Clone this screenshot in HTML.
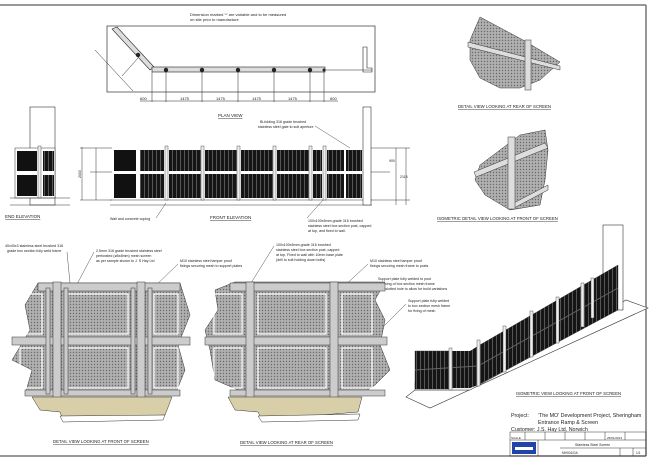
<!DOCTYPE html>
<html><head><meta charset="utf-8"><style>
html,body{margin:0;padding:0;background:#fff;}
svg{display:block;font-family:"Liberation Sans",sans-serif;}
</style></head><body>
<svg width="650" height="469" viewBox="0 0 650 469" xmlns="http://www.w3.org/2000/svg">
<defs>
<pattern id="mesh" width="3" height="3" patternUnits="userSpaceOnUse"><rect width="3" height="3" fill="#b0b0b0"/><circle cx="1.5" cy="1.5" r="0.7" fill="#6a6a6a"/></pattern>
<pattern id="dark" width="4" height="6" patternUnits="userSpaceOnUse"><rect width="4" height="6" fill="#151515"/><rect x="0" y="0" width="1" height="6" fill="#555"/></pattern>
</defs>
<rect width="650" height="469" fill="#fff"/>
<line x1="0" y1="5" x2="646" y2="5" stroke="#777" stroke-width="1.5"/>
<line x1="646" y1="5" x2="646" y2="456" stroke="#777" stroke-width="1.5"/>
<line x1="0" y1="456" x2="646" y2="456" stroke="#777" stroke-width="1.5"/>

<!-- plan view -->
<text x="190" y="16" font-size="4" fill="#222">Dimension marked '*' are variable and to be measured</text>
<text x="190" y="21" font-size="4" fill="#222">on site prior to manufacture</text>
<rect x="107" y="26" width="268" height="66" fill="none" stroke="#333" stroke-width="0.7"/>
<polygon points="112,29 117,27 154,67 150,70" fill="#ddd" stroke="#222" stroke-width="0.6"/>
<rect x="152" y="67" width="173" height="5" fill="#ddd" stroke="#222" stroke-width="0.6"/>
<line x1="325" y1="70" x2="372" y2="70" stroke="#222" stroke-width="0.6"/>
<path d="M363,47 h4 v21 h5 v4 h-9 z" fill="none" stroke="#222" stroke-width="0.6"/>
<g fill="#222"><circle cx="138" cy="55" r="2.2"/><circle cx="166" cy="70" r="2.2"/><circle cx="202" cy="70" r="2.2"/><circle cx="238" cy="70" r="2.2"/><circle cx="274" cy="70" r="2.2"/><circle cx="310" cy="70" r="2.2"/><circle cx="324" cy="70" r="1.5"/></g>
<line x1="95" y1="50" x2="133" y2="91" stroke="#222" stroke-width="0.5"/>
<line x1="122" y1="76" x2="138" y2="58" stroke="#222" stroke-width="0.5"/>
<line x1="140" y1="101" x2="338" y2="101" stroke="#222" stroke-width="0.5"/>
<g stroke="#222" stroke-width="0.5"><line x1="152" y1="72" x2="152" y2="102"/><line x1="166" y1="72" x2="166" y2="102"/><line x1="202" y1="72" x2="202" y2="102"/><line x1="238" y1="72" x2="238" y2="102"/><line x1="274" y1="72" x2="274" y2="102"/><line x1="310" y1="72" x2="310" y2="102"/><line x1="324" y1="72" x2="324" y2="102"/></g>
<g font-size="4" fill="#222"><text x="140" y="100">600</text><text x="180" y="100">1475</text><text x="216" y="100">1475</text><text x="252" y="100">1475</text><text x="288" y="100">1475</text><text x="330" y="100">600</text></g>
<text x="218" y="117" font-size="4.5" fill="#222" text-decoration="underline">PLAN VIEW</text>

<!-- end elevation -->
<rect x="30" y="107" width="25" height="98" fill="none" stroke="#333" stroke-width="0.6"/>
<rect x="15" y="148" width="40" height="50" fill="#fff" stroke="#333" stroke-width="0.5"/>
<rect x="17" y="151" width="20" height="20" fill="#111"/><rect x="17" y="175" width="20" height="21" fill="#111"/>
<rect x="43" y="151" width="11" height="20" fill="url(#dark)"/><rect x="43" y="175" width="11" height="21" fill="url(#dark)"/>
<rect x="38" y="146" width="3" height="52" fill="#eee" stroke="#333" stroke-width="0.4"/>
<line x1="10" y1="198" x2="70" y2="198" stroke="#333" stroke-width="0.5"/>
<line x1="10" y1="205" x2="70" y2="205" stroke="#333" stroke-width="0.5"/>
<text x="5" y="218" font-size="4.5" fill="#222" text-decoration="underline">END ELEVATION</text>

<!-- front elevation -->
<g stroke="#333" stroke-width="0.5" fill="none">
<line x1="82" y1="147" x2="82" y2="200"/><line x1="96" y1="148" x2="96" y2="200"/><line x1="80" y1="148" x2="112" y2="148"/><line x1="80" y1="200" x2="112" y2="200"/><line x1="90" y1="172" x2="112" y2="172"/>
<line x1="396" y1="148" x2="396" y2="205"/><line x1="406" y1="148" x2="406" y2="205"/><line x1="370" y1="148" x2="410" y2="148"/><line x1="370" y1="200" x2="410" y2="200"/><line x1="370" y1="172" x2="390" y2="172"/>
<line x1="110" y1="205" x2="372" y2="205"/><line x1="110" y1="200" x2="372" y2="200"/>
</g>
<g font-size="3.5" fill="#222"><text x="77" y="178" transform="rotate(-90 79 176)">2000</text><text x="400" y="178">2115</text><text x="389" y="162">900</text></g>
<rect x="363" y="107" width="8" height="98" fill="#fff" stroke="#333" stroke-width="0.6"/>
<g>
<rect x="114" y="150" width="22" height="21" fill="#111"/><rect x="114" y="174" width="22" height="24" fill="#111"/>
<rect x="140" y="150" width="24" height="21" fill="url(#dark)"/><rect x="140" y="174" width="24" height="24" fill="url(#dark)"/>
<rect x="169" y="150" width="32" height="21" fill="url(#dark)"/><rect x="169" y="174" width="32" height="24" fill="url(#dark)"/>
<rect x="205" y="150" width="32" height="21" fill="url(#dark)"/><rect x="205" y="174" width="32" height="24" fill="url(#dark)"/>
<rect x="241" y="150" width="32" height="21" fill="url(#dark)"/><rect x="241" y="174" width="32" height="24" fill="url(#dark)"/>
<rect x="277" y="150" width="32" height="21" fill="url(#dark)"/><rect x="277" y="174" width="32" height="24" fill="url(#dark)"/>
<rect x="313" y="150" width="9" height="21" fill="url(#dark)"/><rect x="313" y="174" width="9" height="24" fill="url(#dark)"/>
<rect x="327" y="150" width="17" height="21" fill="url(#dark)"/><rect x="327" y="174" width="17" height="24" fill="url(#dark)"/>
<rect x="346" y="150" width="16" height="21" fill="url(#dark)"/><rect x="346" y="174" width="16" height="24" fill="url(#dark)"/>
</g>
<g fill="#eee" stroke="#333" stroke-width="0.4"><rect x="165" y="146" width="3" height="54"/><rect x="201" y="146" width="3" height="54"/><rect x="237" y="146" width="3" height="54"/><rect x="273" y="146" width="3" height="54"/><rect x="309" y="146" width="3" height="54"/><rect x="323" y="146" width="3" height="54"/></g>
<text x="260" y="123" font-size="3.6" fill="#222">Bi-folding 316 grade brushed</text>
<text x="258" y="128" font-size="3.6" fill="#222">stainless steel gate to suit aperture</text>
<line x1="315" y1="126" x2="350" y2="148" stroke="#222" stroke-width="0.4"/>
<text x="110" y="220" font-size="3.6" fill="#222">Wall and concrete coping</text>
<line x1="156" y1="218" x2="166" y2="203" stroke="#222" stroke-width="0.4"/>
<text x="210" y="219" font-size="4.5" fill="#222" text-decoration="underline">FRONT ELEVATION</text>
<line x1="307" y1="218" x2="323" y2="200" stroke="#222" stroke-width="0.4"/>
<text x="308" y="222" font-size="3.6" fill="#222">100x100x6mm grade 316 brushed</text>
<text x="308" y="227" font-size="3.6" fill="#222">stainless steel box section post, capped</text>
<text x="308" y="232" font-size="3.6" fill="#222">at top, and fixed to wall.</text>

<!-- iso detail rear -->
<polygon points="480,17 523,40 560,62 540,80 520,88 500,88 480,78 470,60 470,40" fill="url(#mesh)" stroke="#333" stroke-width="0.5"/>
<polygon points="468,42 560,66 560,70 468,47" fill="#ddd" stroke="#333" stroke-width="0.5"/>
<rect x="525" y="40" width="6" height="50" fill="#ddd" stroke="#333" stroke-width="0.5"/>
<text x="458" y="108" font-size="4.3" fill="#222" text-decoration="underline">DETAIL VIEW LOOKING AT REAR OF SCREEN</text>
<!-- iso detail front -->
<polygon points="480,165 520,135 545,130 548,150 545,180 540,205 510,210 485,195 475,180" fill="url(#mesh)" stroke="#333" stroke-width="0.5"/>
<polygon points="474,172 545,143 548,148 476,177" fill="#ddd" stroke="#333" stroke-width="0.5"/>
<polygon points="510,205 548,185 548,190 512,209" fill="#ddd" stroke="#333" stroke-width="0.5"/>
<rect x="508" y="137" width="7" height="72" fill="#ddd" stroke="#333" stroke-width="0.5"/>
<text x="437" y="220" font-size="4.3" fill="#222" text-decoration="underline">ISOMETRIC DETAIL VIEW LOOKING AT FRONT OF SCREEN</text>

<!-- detail front -->
<text x="5" y="247" font-size="3.6" fill="#222">40x40x3 stainless steel brushed 316</text>
<text x="7" y="252" font-size="3.6" fill="#222">grade box section fully weld frame</text>
<line x1="67" y1="252" x2="70" y2="283" stroke="#222" stroke-width="0.4"/>
<text x="96" y="252" font-size="3.6" fill="#222">2.5mm 316 grade brushed stainless steel</text>
<text x="96" y="257" font-size="3.6" fill="#222">perforated (ø5x8mm) mesh screen</text>
<text x="96" y="262" font-size="3.6" fill="#222">as per sample shown to J. S Hay Ltd</text>
<line x1="94" y1="252" x2="75" y2="288" stroke="#222" stroke-width="0.4"/>
<text x="180" y="262" font-size="3.6" fill="#222">M10 stainless steel tamper proof</text>
<text x="180" y="267" font-size="3.6" fill="#222">fixings securing mesh to support plates</text>
<line x1="178" y1="264" x2="150" y2="291" stroke="#222" stroke-width="0.4"/>
<polygon points="38,283 180,283 190,315 178,345 185,370 175,395 25,395 32,370 12,360 30,330 25,305" fill="url(#mesh)" stroke="#333" stroke-width="0.5"/>
<g fill="none" stroke="#fff" stroke-width="1.2">
<rect x="66" y="294" width="62" height="40"/><rect x="66" y="348" width="62" height="40"/>
<rect x="20" y="294" width="22" height="40"/><rect x="20" y="348" width="22" height="40"/>
<rect x="154" y="294" width="24" height="40"/><rect x="154" y="348" width="24" height="40"/>
</g>
<g fill="#ccc" stroke="#333" stroke-width="0.5">
<rect x="38" y="283" width="142" height="8"/><rect x="12" y="337" width="178" height="8"/><rect x="25" y="390" width="155" height="6"/>
<rect x="53" y="282" width="8" height="116"/><rect x="137" y="282" width="8" height="116"/>
<rect x="46" y="288" width="4" height="106"/><rect x="64" y="288" width="4" height="106"/><rect x="131" y="288" width="4" height="106"/><rect x="148" y="288" width="4" height="106"/>
</g>
<polygon points="32,397 172,397 165,415 63,420 60,412 40,410" fill="#d8cfa8" stroke="#333" stroke-width="0.5"/>
<polygon points="60,416 165,415 163,420 63,422" fill="#fff" stroke="#333" stroke-width="0.5"/>
<text x="53" y="443" font-size="4.3" fill="#222" text-decoration="underline">DETAIL VIEW LOOKING AT FRONT OF SCREEN</text>

<!-- detail rear -->
<text x="276" y="246" font-size="3.6" fill="#222">100x100x6mm grade 316 brushed</text>
<text x="276" y="251" font-size="3.6" fill="#222">stainless steel box section post, capped</text>
<text x="276" y="256" font-size="3.6" fill="#222">at top. Fixed to wall with 10mm base plate</text>
<text x="276" y="261" font-size="3.6" fill="#222">(drill to suit holding down bolts)</text>
<line x1="274" y1="246" x2="251" y2="283" stroke="#222" stroke-width="0.4"/>
<text x="370" y="262" font-size="3.6" fill="#222">M10 stainless steel tamper proof</text>
<text x="370" y="267" font-size="3.6" fill="#222">fixings securing mesh frame to posts</text>
<line x1="368" y1="264" x2="340" y2="290" stroke="#222" stroke-width="0.4"/>
<text x="378" y="280" font-size="3.6" fill="#222">Support plate fully welded to post</text>
<text x="378" y="285" font-size="3.6" fill="#222">for fixing of box section mesh frame</text>
<text x="378" y="290" font-size="3.6" fill="#222">with slotted hole to allow for build variations</text>
<line x1="376" y1="282" x2="338" y2="325" stroke="#222" stroke-width="0.4"/>
<text x="408" y="302" font-size="3.6" fill="#222">Support plate fully welded</text>
<text x="408" y="307" font-size="3.6" fill="#222">to box section mesh frame</text>
<text x="408" y="312" font-size="3.6" fill="#222">for fixing of mesh</text>
<line x1="406" y1="304" x2="375" y2="335" stroke="#222" stroke-width="0.4"/>
<polygon points="215,290 235,282 385,282 375,300 385,320 380,345 390,370 375,385 360,395 250,395 215,380 210,350 205,330 218,310" fill="url(#mesh)" stroke="#333" stroke-width="0.5"/>
<g fill="none" stroke="#fff" stroke-width="1.2">
<rect x="258" y="294" width="68" height="40"/><rect x="258" y="348" width="68" height="40"/>
<rect x="214" y="294" width="28" height="40"/><rect x="214" y="348" width="28" height="40"/>
<rect x="342" y="294" width="30" height="40"/><rect x="342" y="348" width="30" height="40"/>
</g>
<g fill="#ccc" stroke="#333" stroke-width="0.5">
<rect x="230" y="283" width="155" height="8"/><rect x="205" y="337" width="182" height="8"/><rect x="230" y="390" width="155" height="6"/>
<rect x="246" y="282" width="8" height="116"/><rect x="330" y="282" width="8" height="116"/>
</g>
<polygon points="228,397 362,397 358,412 262,420 258,412 235,410" fill="#d8cfa8" stroke="#333" stroke-width="0.5"/>
<polygon points="258,416 360,414 358,420 262,422" fill="#fff" stroke="#333" stroke-width="0.5"/>
<text x="240" y="444" font-size="4.3" fill="#222" text-decoration="underline">DETAIL VIEW LOOKING AT REAR OF SCREEN</text>

<!-- iso view -->
<polygon points="406,397 430,408 648,308 626,300 470,390 415,390" fill="#fff" stroke="#333" stroke-width="0.6"/>
<polygon points="415,390 470,390 620,308 620,300 470,382 415,382" fill="#eee" stroke="#333" stroke-width="0.4"/>
<rect x="603" y="225" width="20" height="85" fill="#fff" stroke="#333" stroke-width="0.6"/>
<rect x="415" y="351" width="35" height="38" fill="url(#dark)" stroke="#333" stroke-width="0.4"/>
<polygon points="452,351 470,351 478,346 478,385 470,388 452,388" fill="url(#dark)"/>
<polygon points="478,346 618,265 618,310 478,385" fill="url(#dark)" stroke="#333" stroke-width="0.4"/>
<line x1="415" y1="370" x2="478" y2="366" stroke="#666" stroke-width="1"/>
<line x1="478" y1="366" x2="618" y2="288" stroke="#666" stroke-width="1"/>
<g fill="#eee" stroke="#333" stroke-width="0.4">
<rect x="449" y="348" width="3" height="42"/><rect x="477" y="340" width="3" height="46"/><rect x="503" y="326" width="3" height="46"/><rect x="530" y="311" width="3" height="46"/><rect x="556" y="297" width="3" height="46"/><rect x="581" y="283" width="3" height="44"/><rect x="591" y="278" width="3" height="40"/>
</g>
<text x="516" y="395" font-size="4.3" fill="#222" text-decoration="underline">ISOMETRIC VIEW LOOKING AT FRONT OF SCREEN</text>

<!-- title block -->
<text x="511" y="417" font-size="5.3" fill="#222">Project:</text>
<text x="538" y="417" font-size="5.3" fill="#222">'The MO' Development Project, Sheringham</text>
<text x="538" y="424" font-size="5.3" fill="#222">Entrance Ramp &amp; Screen</text>
<text x="511" y="431" font-size="5.3" fill="#222">Customer: J.S. Hay Ltd, Norwich</text>
<g fill="none" stroke="#333" stroke-width="0.5">
<rect x="510" y="432" width="136" height="24"/>
<line x1="510" y1="440" x2="646" y2="440"/>
<line x1="538" y1="440" x2="538" y2="456"/><line x1="560" y1="448" x2="646" y2="448"/>
<line x1="525" y1="432" x2="525" y2="440"/><line x1="545" y1="432" x2="545" y2="440"/><line x1="565" y1="432" x2="565" y2="440"/><line x1="585" y1="432" x2="585" y2="440"/><line x1="605" y1="432" x2="605" y2="440"/><line x1="625" y1="432" x2="625" y2="440"/>
<line x1="620" y1="448" x2="620" y2="456"/><line x1="633" y1="448" x2="633" y2="456"/>
</g>
<rect x="512" y="442" width="24" height="12" fill="#2244aa"/>
<rect x="515" y="447" width="18" height="3" fill="#fff"/>
<text x="575" y="446" font-size="3.5" fill="#222">Stainless Steel Screen</text>
<text x="562" y="454" font-size="3.2" fill="#222">MH001/GA</text>
<text x="636" y="454" font-size="3.2" fill="#222">1/1</text>
<text x="511" y="439" font-size="3" fill="#222">SCALE</text>
<text x="607" y="439" font-size="3" fill="#222">25/01/2013</text>
</svg>
</body></html>
